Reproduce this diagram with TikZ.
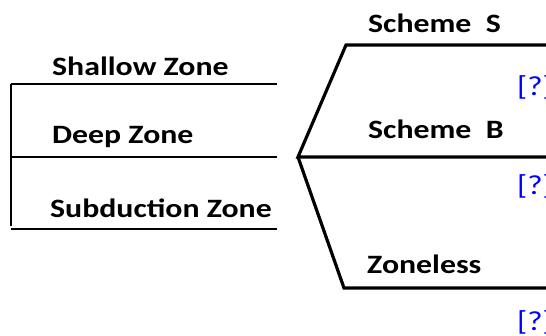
\documentclass[tikz,border=0pt]{standalone}
\usepackage{fontspec}
\setmainfont{Carlito}
\newfontfamily\widefont{Carlito}[FakeStretch=1.2]
\begin{document}
\begin{tikzpicture}[x=1pt,y=-1pt,
  lbl/.style={anchor=base west,inner sep=0pt,font=\widefont\fontsize{26.5}{30}\selectfont\bfseries},
  cite/.style={anchor=base west,inner sep=0pt,text=blue,font=\widefont\fontsize{27.5}{32}\selectfont},
  thin rule/.style={line width=1.6pt},
  thick rule/.style={line width=3.2pt}]
\useasboundingbox (0,0) rectangle (546,335);
% left bracket of zones
\coordinate (lt) at (11,84);
\coordinate (lm) at (11,157);
\coordinate (lb) at (11,229);
\coordinate (rt) at (277,84);
\coordinate (rm) at (277,157);
\coordinate (rb) at (277,229);
\draw[thin rule] (lt) -- (11,226);
\draw[thin rule] (lt) -- (rt);
\draw[thin rule] (lm) -- (rm);
\draw[thin rule] (lb) -- (rb);
\node[lbl] (shallow) at (52,75) {Shallow Zone};
\node[lbl] (deep) at (52,143) {Deep Zone};
\node[lbl] (subd) at (50,217) {Subduction Zone};
% branching schemes
\coordinate (apex) at (298,157);
\coordinate (upk) at (346,45);
\coordinate (lok) at (344,288);
\coordinate (upe) at (548,45);
\coordinate (mide) at (548,157);
\coordinate (loe) at (548,288);
\draw[thick rule,line join=miter] (upe) -- (upk) -- (apex) -- (mide);
\draw[thick rule,line join=miter] (apex) -- (lok) -- (loe);
\node[lbl] (schS) at (368,32) {Scheme\ \ S};
\node[lbl] (schB) at (368,138) {Scheme\ \ B};
\node[lbl] (zless) at (367,273) {Zoneless};
\node[cite] (c1) at (517,95) {[?]};
\node[cite] (c2) at (517,194) {[?]};
\node[cite] (c3) at (517,330) {[?]};
\end{tikzpicture}
\end{document}
